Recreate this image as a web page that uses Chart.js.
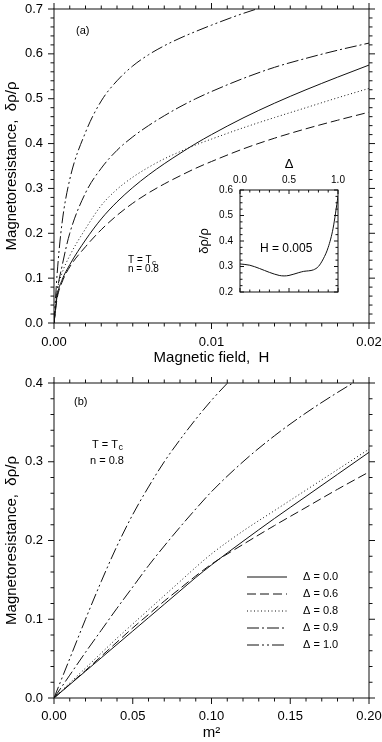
<!DOCTYPE html>
<html>
<head>
<meta charset="utf-8">
<script src="https://cdn.jsdelivr.net/npm/chart.js@4.4.1/dist/chart.umd.min.js"></script>
<style>
  body { margin: 0; background: #fff; width: 382px; height: 742px; overflow: hidden; }
  canvas { position: absolute; }
  #top { left: 0; top: 0; }
  #bottom { left: 0; top: 370px; }
  #inset { left: 195px; top: 150px; }
</style>
</head>
<body>
<canvas id="top" width="382" height="370"></canvas>
<canvas id="bottom" width="382" height="372"></canvas>
<canvas id="inset" width="150" height="150"></canvas>
<script>
// panel (a): magnetoresistance vs field H
const fieldH = [0, 0.0002, 0.0005, 0.001, 0.002, 0.003, 0.004, 0.005, 0.006, 0.007, 0.008, 0.009, 0.010, 0.012, 0.014, 0.016, 0.018, 0.020];
const mrH_d00 = [0, 0.06, 0.095, 0.13, 0.185, 0.232, 0.27, 0.302, 0.33, 0.355, 0.378, 0.40, 0.42, 0.457, 0.49, 0.52, 0.548, 0.575];
const mrH_d06 = [0, 0.055, 0.09, 0.125, 0.17, 0.208, 0.24, 0.267, 0.29, 0.31, 0.328, 0.345, 0.36, 0.388, 0.412, 0.433, 0.452, 0.47];
const mrH_d08 = [0, 0.07, 0.11, 0.15, 0.21, 0.262, 0.298, 0.325, 0.347, 0.366, 0.382, 0.397, 0.41, 0.435, 0.458, 0.48, 0.502, 0.523];
const mrH_d09 = [0, 0.07, 0.125, 0.20, 0.29, 0.345, 0.385, 0.415, 0.44, 0.462, 0.482, 0.50, 0.516, 0.545, 0.57, 0.59, 0.608, 0.624];
const mrH_d10 = [0, 0.11, 0.22, 0.32, 0.425, 0.495, 0.54, 0.573, 0.598, 0.618, 0.635, 0.65, 0.664, 0.69, 0.712, 0.732, 0.75, 0.766];

// inset: magnetoresistance vs Delta at H = 0.005
const insetDelta = [0, 0.1, 0.2, 0.3, 0.4, 0.45, 0.5, 0.6, 0.65, 0.7, 0.75, 0.8, 0.85, 0.9, 0.95, 1.0];
const insetMR = [0.31, 0.305, 0.292, 0.277, 0.265, 0.263, 0.265, 0.276, 0.281, 0.283, 0.287, 0.30, 0.33, 0.375, 0.45, 0.575];

// panel (b): magnetoresistance vs m^2
const mSq = [0, 0.01, 0.02, 0.03, 0.04, 0.05, 0.06, 0.07, 0.08, 0.09, 0.10, 0.12, 0.14, 0.16, 0.18, 0.20];
const mrM_d00 = [0, 0.017, 0.034, 0.051, 0.068, 0.085, 0.102, 0.119, 0.136, 0.153, 0.169, 0.199, 0.228, 0.256, 0.284, 0.312];
const mrM_d06 = [0, 0.0175, 0.035, 0.053, 0.071, 0.089, 0.106, 0.123, 0.139, 0.155, 0.17, 0.195, 0.219, 0.242, 0.265, 0.287];
const mrM_d08 = [0, 0.019, 0.038, 0.057, 0.076, 0.094, 0.112, 0.130, 0.148, 0.166, 0.183, 0.212, 0.238, 0.264, 0.29, 0.316];
const mrM_d09 = [0, 0.029, 0.058, 0.086, 0.114, 0.141, 0.168, 0.193, 0.217, 0.24, 0.262, 0.30, 0.333, 0.362, 0.388, 0.412];
const mrM_d10 = [0, 0.05, 0.10, 0.148, 0.193, 0.233, 0.268, 0.30, 0.328, 0.354, 0.378, 0.42, 0.458, 0.492, 0.524, 0.554];

const deltaLabels = ['Δ = 0.0', 'Δ = 0.6', 'Δ = 0.8', 'Δ = 0.9', 'Δ = 1.0'];
const dashes = [[], [9, 4], [1, 2.5], [12, 3, 2, 3], [12, 3, 2, 3, 2, 3]];

Chart.defaults.font.family = "'Liberation Sans', Arial, sans-serif";
Chart.defaults.color = '#000';

const ink = '#111';

function pts(xs, ys) {
  return xs.map((x, i) => ({ x: x, y: ys[i] }));
}

function series(xs, list) {
  return list.map((ys, i) => ({
    label: deltaLabels[i],
    data: pts(xs, ys),
    borderColor: ink,
    borderWidth: 1,
    borderDash: dashes[i],
    pointRadius: 0,
    fill: false,
    cubicInterpolationMode: 'monotone'
  }));
}

// fixed axis boxes; drop the extra room chart.js keeps for end labels
function fitX(h) {
  return s => { s.height = h; s.paddingLeft = 0; s.paddingRight = 0; };
}
function fitY(w) {
  return s => { s.width = w; s.paddingTop = 0; s.paddingBottom = 0; };
}

// box round the plot area with major/minor ticks on all four sides
const frameTicks = {
  id: 'frameTicks',
  afterDatasetsDraw(chart, args, o) {
    const { ctx, chartArea: a, scales } = chart;
    const xs = scales.x, ys = scales.y;
    const dir = o.inward ? -1 : 1;
    function each(min, max, step, major, fn) {
      const n = Math.round((max - min) / step);
      for (let i = 0; i <= n; i++) {
        const v = min + i * step;
        const r = v / major;
        fn(v, Math.abs(r - Math.round(r)) < 1e-6);
      }
    }
    ctx.save();
    ctx.strokeStyle = ink;
    ctx.lineWidth = 1;
    ctx.strokeRect(a.left, a.top, a.right - a.left, a.bottom - a.top);
    ctx.beginPath();
    each(xs.min, xs.max, o.xMinor, o.xMajor, (v, big) => {
      const px = xs.getPixelForValue(v), len = big ? o.major : o.minor;
      ctx.moveTo(px, a.bottom); ctx.lineTo(px, a.bottom + dir * len);
      ctx.moveTo(px, a.top); ctx.lineTo(px, a.top - dir * len);
    });
    each(ys.min, ys.max, o.yMinor, o.yMajor, (v, big) => {
      const py = ys.getPixelForValue(v), len = big ? o.major : o.minor;
      ctx.moveTo(a.left, py); ctx.lineTo(a.left - dir * len, py);
      ctx.moveTo(a.right, py); ctx.lineTo(a.right + dir * len, py);
    });
    ctx.stroke();
    ctx.restore();
  }
};

// free text inside the plot area, placed relative to its top-left corner
const notes = {
  id: 'notes',
  afterDraw(chart, args, o) {
    const { ctx, chartArea: a } = chart;
    ctx.save();
    ctx.fillStyle = '#000';
    ctx.textBaseline = 'middle';
    ctx.textAlign = 'left';
    o.items.forEach(it => {
      ctx.font = it.size + "px 'Liberation Sans', Arial, sans-serif";
      ctx.fillText(it.text, a.left + it.x, a.top + it.y);
      if (it.sub) {
        const w = ctx.measureText(it.text).width;
        ctx.font = (it.size - 2) + "px 'Liberation Sans', Arial, sans-serif";
        ctx.fillText(it.sub, a.left + it.x + w + 0.5, a.top + it.y + 3);
      }
    });
    ctx.restore();
  }
};

// line-style legend drawn inside panel (b)
const styleLegend = {
  id: 'styleLegend',
  afterDraw(chart, args, o) {
    if (!o.show) return;
    const { ctx, chartArea: a } = chart;
    ctx.save();
    ctx.font = "11px 'Liberation Sans', Arial, sans-serif";
    ctx.textBaseline = 'middle';
    ctx.fillStyle = '#000';
    chart.data.datasets.forEach((ds, i) => {
      const y = a.top + o.y + i * o.gap;
      ctx.beginPath();
      ctx.setLineDash(ds.borderDash);
      ctx.strokeStyle = ink;
      ctx.lineWidth = 1;
      ctx.moveTo(a.left + o.x, y);
      ctx.lineTo(a.left + o.x + o.len, y);
      ctx.stroke();
      ctx.setLineDash([]);
      ctx.fillText(ds.label, a.left + o.textX, y);
    });
    ctx.restore();
  }
};

function mainOptions(cfg) {
  return {
    responsive: false,
    animation: false,
    devicePixelRatio: 1,
    layout: { padding: { left: 0, right: 13, top: cfg.top, bottom: 0 } },
    plugins: {
      legend: { display: false },
      tooltip: { enabled: false },
      frameTicks: { xMinor: cfg.xMinor, xMajor: cfg.xStep, yMinor: 0.02, yMajor: 0.1, major: 6, minor: 3.5, inward: false },
      notes: { items: cfg.notes },
      styleLegend: cfg.legend || { show: false }
    },
    scales: {
      x: {
        type: 'linear', min: 0, max: cfg.xMax,
        grid: { display: false, drawTicks: false },
        border: { display: false },
        ticks: { stepSize: cfg.xStep, padding: cfg.xPad, maxRotation: 0, autoSkip: false, font: { size: 13 },
                 callback: v => v.toFixed(2) },
        title: { display: true, text: cfg.xTitle, font: { size: 15, lineHeight: 1.2 }, padding: { top: 0, bottom: cfg.xTitlePad } },
        afterFit: fitX(cfg.xHeight)
      },
      y: {
        type: 'linear', min: 0, max: cfg.yMax,
        grid: { display: false, drawTicks: false },
        border: { display: false },
        ticks: { stepSize: 0.1, padding: 11, font: { size: 13 }, callback: v => v.toFixed(1) },
        title: { display: true, text: 'Magnetoresistance,  δρ/ρ', font: { size: 15, lineHeight: 1.2 }, padding: { top: 3, bottom: 0 } },
        afterFit: fitY(54)
      }
    }
  };
}

new Chart(document.getElementById('top'), {
  type: 'line',
  data: { datasets: series(fieldH, [mrH_d00, mrH_d06, mrH_d08, mrH_d09, mrH_d10]) },
  options: mainOptions({
    top: 9, xMax: 0.02, xStep: 0.01, xMinor: 0.001, xPad: 12, xHeight: 47, xTitlePad: 3.5,
    xTitle: 'Magnetic field,  H', yMax: 0.7,
    notes: [
      { text: '(a)', x: 22, y: 22, size: 11 },
      { text: 'T = T', sub: 'c', x: 74, y: 251, size: 10 },
      { text: 'n = 0.8', x: 74, y: 260, size: 10 }
    ]
  }),
  plugins: [frameTicks, notes, styleLegend]
});

new Chart(document.getElementById('bottom'), {
  type: 'line',
  data: { datasets: series(mSq, [mrM_d00, mrM_d06, mrM_d08, mrM_d09, mrM_d10]) },
  options: mainOptions({
    top: 13, xMax: 0.2, xStep: 0.05, xMinor: 0.01, xPad: 11, xHeight: 44, xTitlePad: 0,
    xTitle: 'm²', yMax: 0.4,
    notes: [
      { text: '(b)', x: 20, y: 19, size: 11 },
      { text: 'T = T', sub: 'c', x: 38, y: 62, size: 11 },
      { text: 'n = 0.8', x: 36, y: 78, size: 11 }
    ],
    legend: { show: true, x: 193, len: 40, textX: 249, y: 194, gap: 17 }
  }),
  plugins: [frameTicks, notes, styleLegend]
});

new Chart(document.getElementById('inset'), {
  type: 'line',
  data: {
    datasets: [{
      data: pts(insetDelta, insetMR),
      borderColor: ink, borderWidth: 1, pointRadius: 0, fill: false,
      cubicInterpolationMode: 'monotone'
    }]
  },
  options: {
    responsive: false,
    animation: false,
    devicePixelRatio: 1,
    layout: { padding: { left: 0, right: 7, top: 0, bottom: 8 } },
    plugins: {
      legend: { display: false },
      tooltip: { enabled: false },
      frameTicks: { xMinor: 0.1, xMajor: 0.5, yMinor: 0.025, yMajor: 0.1, major: 4, minor: 2.5, inward: true },
      notes: { items: [{ text: 'H = 0.005', x: 20, y: 59, size: 12 }] }
    },
    scales: {
      x: {
        type: 'linear', position: 'top', min: 0, max: 1,
        grid: { display: false, drawTicks: false },
        border: { display: false },
        ticks: { stepSize: 0.5, padding: 4, maxRotation: 0, font: { size: 10 }, callback: v => v.toFixed(1) },
        title: { display: true, text: 'Δ', font: { size: 13, lineHeight: 1.2 }, padding: { top: 7, bottom: 0 } },
        afterFit: fitX(40)
      },
      y: {
        type: 'linear', min: 0.2, max: 0.6,
        grid: { display: false, drawTicks: false },
        border: { display: false },
        ticks: { stepSize: 0.1, padding: 7, font: { size: 10 }, callback: v => v.toFixed(1) },
        title: { display: true, text: 'δρ/ρ', font: { size: 13, lineHeight: 1.2 }, padding: { top: 2, bottom: 0 } },
        afterFit: fitY(45)
      }
    }
  },
  plugins: [frameTicks, notes]
});
</script>
</body>
</html>
